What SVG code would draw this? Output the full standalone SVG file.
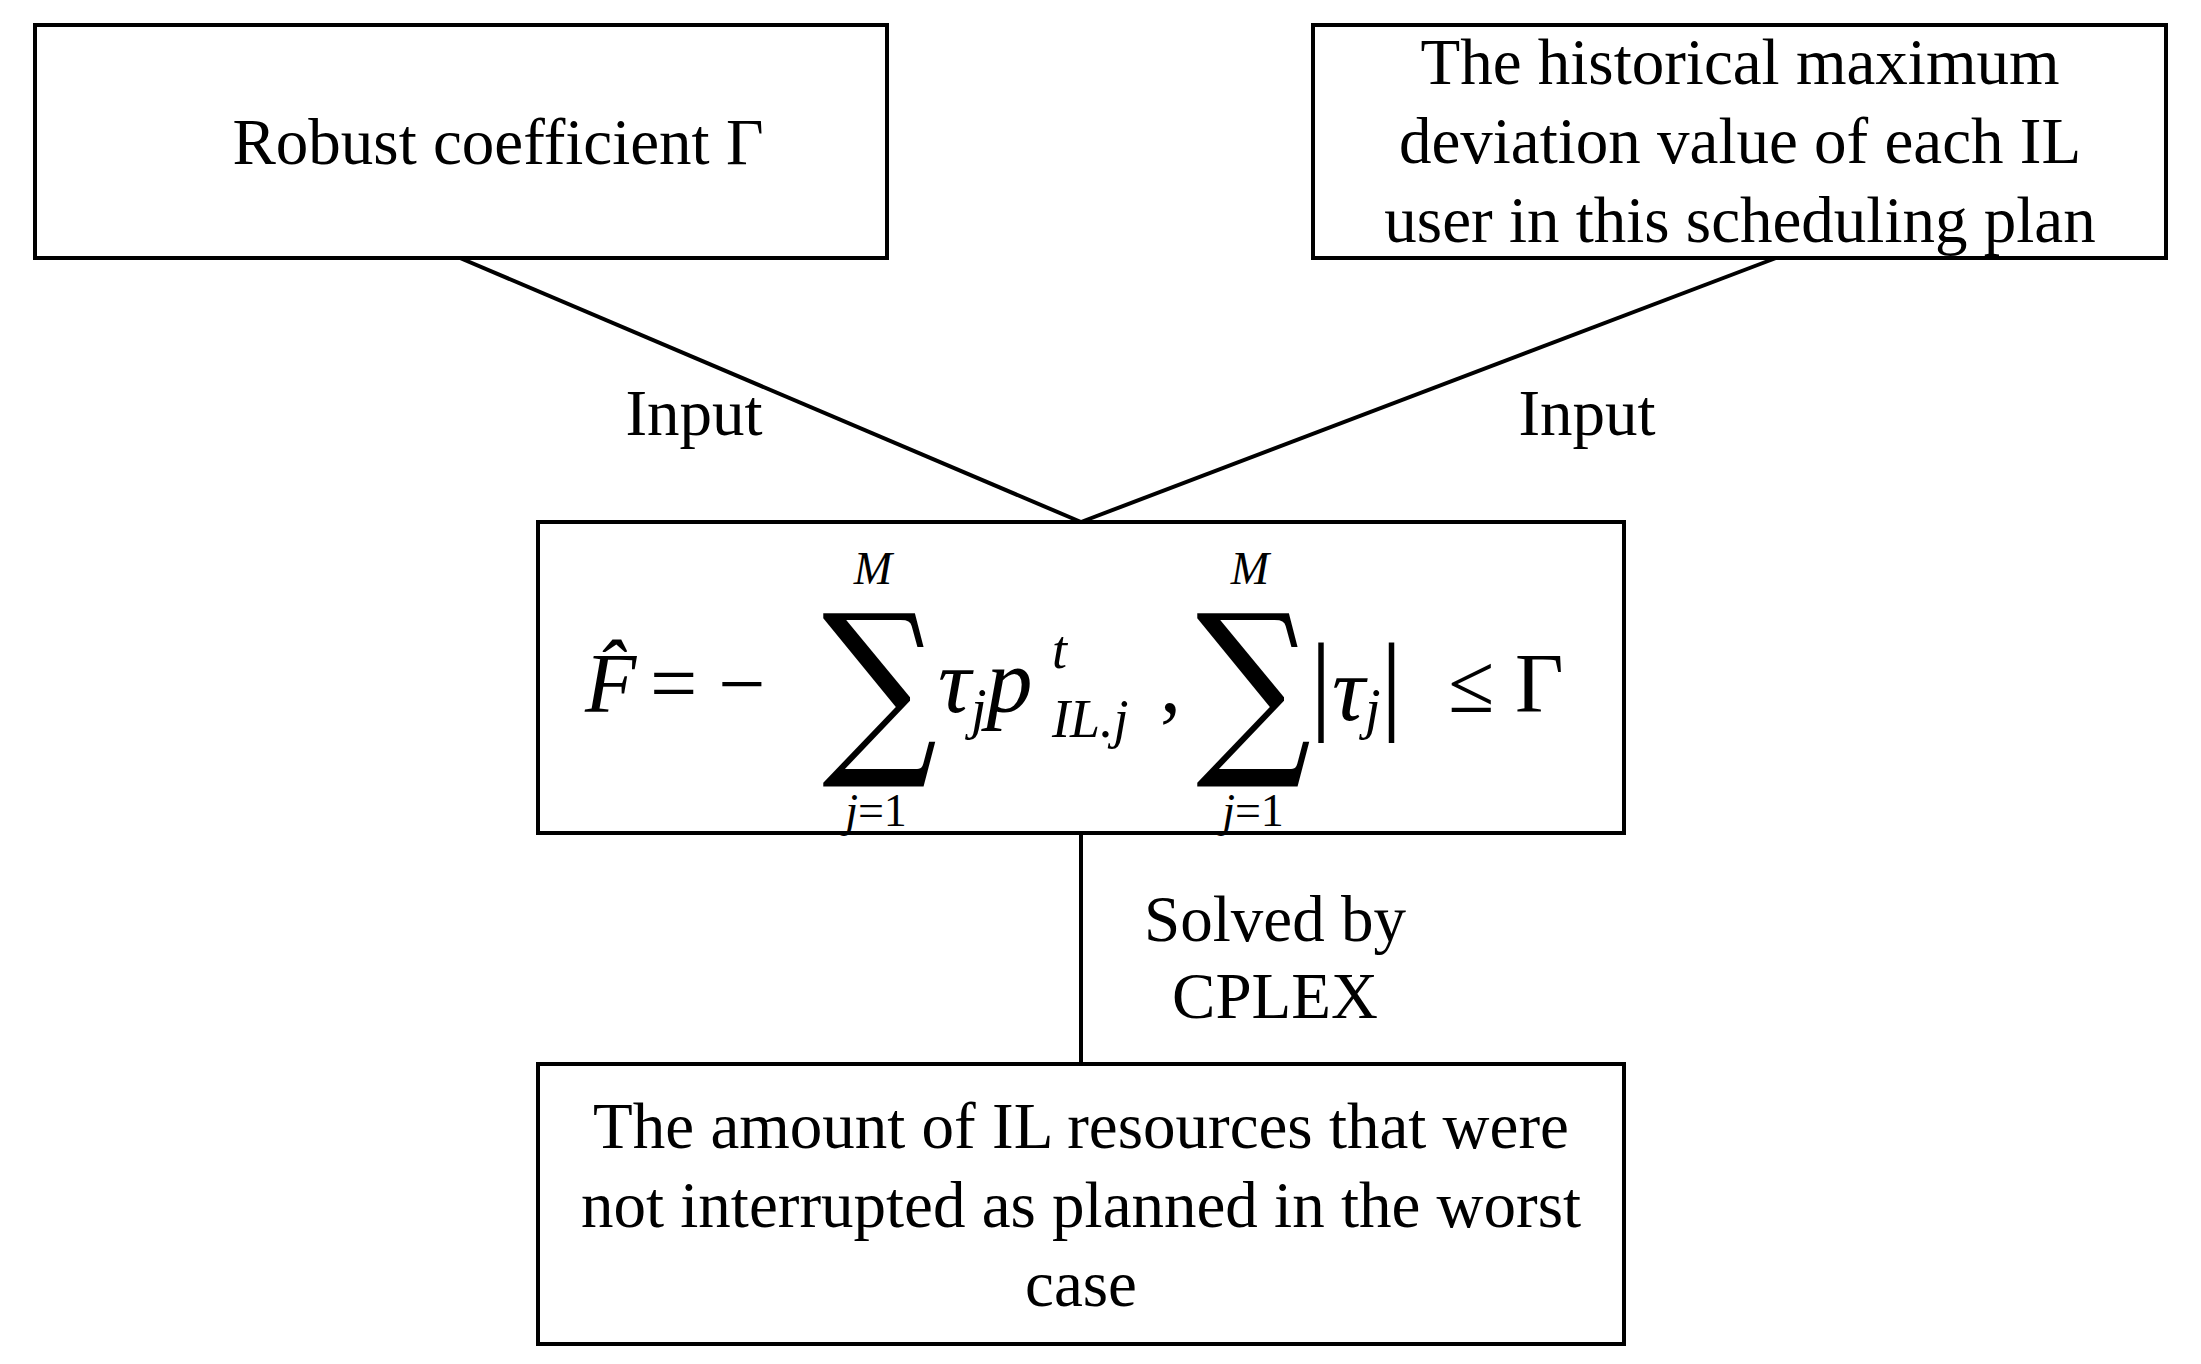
<svg xmlns="http://www.w3.org/2000/svg" width="2201" height="1364" viewBox="0 0 2201 1364">
<style>
.b{fill:#fff;stroke:#000;stroke-width:4}
.t{font-family:"Liberation Serif","Times New Roman",serif;font-size:65px;fill:#000;text-anchor:middle}
.m{font-family:"Liberation Serif","Times New Roman",serif;font-style:italic;fill:#000}
.c{stroke:#000;stroke-width:4;fill:none}
</style>
<rect width="2201" height="1364" fill="#fff"/>
<g id="connectors">
<line class="c" x1="460" y1="258" x2="1081" y2="522"/>
<line class="c" x1="1776" y1="258" x2="1081" y2="522"/>
<line class="c" x1="1081" y1="833" x2="1081" y2="1064"/>
<text class="t" x="694" y="435">Input</text>
<text class="t" x="1587" y="435">Input</text>
<text class="t" x="1275" y="941">Solved by</text>
<text class="t" x="1275" y="1018">CPLEX</text>
</g>
<g id="robust">
<rect class="b" x="35" y="25" width="852" height="233"/>
<text class="t" x="498" y="164">Robust coefficient  Γ</text>
</g>
<g id="historical">
<rect class="b" x="1313" y="25" width="853" height="233"/>
<text class="t" x="1740" y="84">The historical maximum</text>
<text class="t" x="1740" y="163">deviation value of each IL</text>
<text class="t" x="1740" y="242">user in this scheduling plan</text>
</g>
<g id="formula">
<rect class="b" x="538" y="522" width="1086" height="311"/>
<text class="m" x="585" y="712" font-size="84">F̂</text>
<text x="650" y="712" font-size="84" font-family="Liberation Serif,serif">= −</text>
<text transform="translate(822,750) scale(0.85,1)" font-size="190" font-family="DejaVu Serif,serif">∑</text>
<text class="m" x="873" y="584" font-size="46" text-anchor="middle">M</text>
<text class="m" x="876" y="826" font-size="46" text-anchor="middle">j<tspan font-style="normal">=1</tspan></text>
<text class="m" x="938" y="712" font-size="92">τ<tspan font-size="56" dy="16">j</tspan><tspan dy="-16">p</tspan></text>
<text class="m" x="1052" y="668" font-size="54">t</text>
<text class="m" x="1052" y="737" font-size="54">IL.j</text>
<text x="1160" y="712" font-size="84" font-family="Liberation Serif,serif">,</text>
<text transform="translate(1196,750) scale(0.85,1)" font-size="190" font-family="DejaVu Serif,serif">∑</text>
<text class="m" x="1250" y="584" font-size="46" text-anchor="middle">M</text>
<text class="m" x="1253" y="826" font-size="46" text-anchor="middle">j<tspan font-style="normal">=1</tspan></text>
<text class="m" x="1310" y="720" font-size="110"><tspan font-style="normal">|</tspan><tspan font-size="92">τ</tspan><tspan font-size="56" dy="8">j</tspan><tspan font-style="normal" dy="-8">|</tspan></text>
<text x="1448" y="712" font-size="84" font-family="Liberation Serif,serif">≤ Γ</text>
</g>
<g id="result">
<rect class="b" x="538" y="1064" width="1086" height="280"/>
<text class="t" x="1081" y="1148">The amount of IL resources that were</text>
<text class="t" x="1081" y="1227">not interrupted as planned in the worst</text>
<text class="t" x="1081" y="1306">case</text>
</g>
</svg>
